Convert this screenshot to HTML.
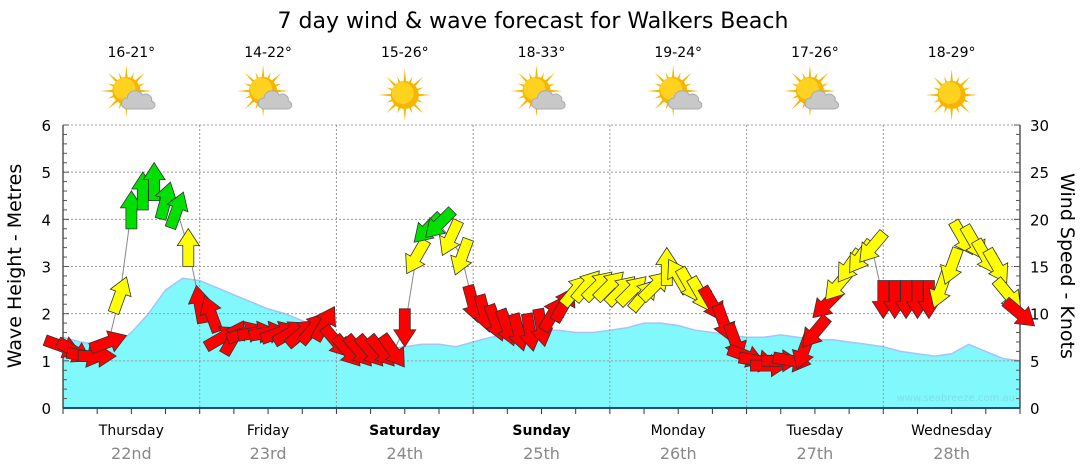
<!DOCTYPE html>
<html><head><meta charset="utf-8"><style>
body{margin:0;background:#fff;}
svg{display:block;font-family:"DejaVu Sans","Liberation Sans",sans-serif;}
</style></head><body>
<svg id="chart" width="1080" height="475" viewBox="0 0 1080 475" xmlns="http://www.w3.org/2000/svg">
<text x="533" y="28" font-size="22" text-anchor="middle" fill="#000">7 day wind &amp; wave forecast for Walkers Beach</text>
<g id="plot"></g>
<text transform="translate(21,266) rotate(-90)" font-size="19" text-anchor="middle">Wave Height - Metres</text>
<text transform="translate(1061,266) rotate(90)" font-size="19" text-anchor="middle">Wind Speed - Knots</text>
<text x="1015" y="401" font-size="10" text-anchor="end" fill="#7fdfe8">www.seabreeze.com.au</text>
</svg>
<script>
const days=["Thursday","Friday","Saturday","Sunday","Monday","Tuesday","Wednesday"];
const dates=["22nd","23rd","24th","25th","26th","27th","28th"];
const temps=["16-21°","14-22°","15-26°","18-33°","19-24°","17-26°","18-29°"];
const icons=["cloud","cloud","sun","cloud","cloud","cloud","sun"];
const boldDays=[false,false,true,true,false,false,false];
const waveTicks=[0,1,2,3,4,5,6];
const windTicks=[0,5,10,15,20,25,30];
const wave=[1.5,1.4,1.35,1.3,1.6,2.0,2.5,2.75,2.7,2.55,2.4,2.25,2.1,2.0,1.85,1.7,1.45,1.35,1.3,1.25,1.3,1.35,1.35,1.3,1.4,1.5,1.55,1.6,1.65,1.65,1.6,1.6,1.65,1.7,1.8,1.8,1.75,1.65,1.6,1.55,1.5,1.5,1.55,1.5,1.45,1.45,1.4,1.35,1.3,1.2,1.15,1.1,1.15,1.35,1.2,1.05,1.0];
const windSpeed=[6.5,6,5.5,5.5,7,12,21,23,24,22,21,17,
11,10,7.5,7.5,8,8,8,8,8,8,8.5,9,
7,6,6,6,6,6,8.5,16,19,19.5,18,16,
11,10,9,8.5,8,8,8.5,10,11,12.5,13,13,
13,12.5,12.5,12,13,15,14,13,12,11,9,7,
5.5,5,4.5,5,5,6,8,11,13,15,16,17,
11.5,11.5,11.5,11.5,11.5,12.5,15,18,17.5,16,15,12,10];
const windDir=[110,120,100,90,70,20,0,0,0,15,20,0,
350,340,60,30,70,80,80,70,60,50,40,30,
140,140,140,140,140,145,180,210,225,225,205,200,
165,165,160,160,165,170,170,30,30,40,40,45,
45,45,45,40,45,0,330,150,150,150,160,160,
110,100,90,90,100,200,220,225,220,215,215,220,
180,180,180,180,180,200,200,150,150,150,150,140,130];

const NS="http://www.w3.org/2000/svg";
const X0=63,X1=1020,Y0=408,Y6=125;
const nDays=7;
const xWave=i=>X0+(X1-X0)*i/(wave.length-1);
const xWind=i=>X0+(X1-X0)*i/(windSpeed.length-1);
const xDay=f=>X0+(X1-X0)*f/nDays;
const yW=v=>Y0-(Y0-Y6)*v/6;
const yK=k=>Y0-(Y0-Y6)*k/30;
const plot=document.getElementById('plot');
function mk(tag,attrs,parent){const e=document.createElementNS(NS,tag);for(const k in attrs)e.setAttribute(k,attrs[k]);(parent||plot).appendChild(e);return e;}

let d=`M${xWave(0)},${Y0}`;
wave.forEach((v,i)=>{d+=` L${xWave(i).toFixed(1)},${yW(v).toFixed(1)}`;});
d+=` L${xWave(wave.length-1)},${Y0} Z`;
const area=mk('path',{d:d,fill:'#80f8fc',stroke:'none'});


let dl='';wave.forEach((v,i)=>{dl+=(i?' L':'M')+xWave(i).toFixed(1)+','+yW(v).toFixed(1);});
const wl=mk('path',{d:dl,fill:'none',stroke:'#a8c4f4','stroke-width':1.5});



waveTicks.forEach(v=>{if(v>0){const g=mk('line',{x1:X0,x2:X1,y1:yW(v),y2:yW(v),stroke:'#999','stroke-dasharray':'2,2','stroke-width':1});

}});
for(let i=1;i<nDays;i++){const x=xDay(i);const g=mk('line',{x1:x,x2:x,y1:Y6,y2:Y0,stroke:'#999','stroke-dasharray':'2,2','stroke-width':1});

}

const ax=mk('line',{x1:X0,x2:X0,y1:Y6,y2:Y0,stroke:'#000'});


const ax2=mk('line',{x1:X1,x2:X1,y1:Y6,y2:Y0,stroke:'#000'});


for(let i=0;i<=30;i++){const y=Y0-(Y0-Y6)*i/30;const len=i%5==0?6:4;
mk('line',{x1:X0,x2:X0+len,y1:y,y2:y,stroke:'#555'});mk('line',{x1:X1-len,x2:X1,y1:y,y2:y,stroke:'#555'});}
for(let i=0;i<=nDays*4;i++){const x=xDay(i/4);mk('line',{x1:x,x2:x,y1:Y0,y2:Y0+6,stroke:'#333'});}
waveTicks.forEach(v=>{const t=mk('text',{x:X0-12,y:yW(v)+6,'font-size':15,'text-anchor':'end'});t.textContent=v;

});
windTicks.forEach(v=>{const t=mk('text',{x:X1+10,y:yK(v)+6,'font-size':15,'text-anchor':'start'});t.textContent=v;

});

days.forEach((n,i)=>{const cx=xDay(i+0.5);
const t=mk('text',{x:cx,y:435,'font-size':14,'text-anchor':'middle','font-weight':boldDays[i]?'bold':'normal'});t.textContent=n;


const t2=mk('text',{x:cx,y:459,'font-size':16,'text-anchor':'middle',fill:'#888'});t2.textContent=dates[i];


const t3=mk('text',{x:cx,y:57,'font-size':14,'text-anchor':'middle'});t3.textContent=temps[i];


const g=mk('g',{transform:`translate(${cx},95)`});


const sx=icons[i]=='sun'?0:-5, sy=icons[i]=='sun'?0:-4;
for(let r=0;r<16;r++){const a=r*Math.PI/8;const L=r%2?20:26;
mk('path',{d:`M${sx+Math.cos(a-0.12)*12},${sy+Math.sin(a-0.12)*12} L${sx+Math.cos(a)*L},${sy+Math.sin(a)*L} L${sx+Math.cos(a+0.12)*12},${sy+Math.sin(a+0.12)*12}Z`,fill:'#f5b800'},g);}
mk('circle',{cx:sx,cy:sy,r:14,fill:'#f7b500'},g);
mk('circle',{cx:sx-2,cy:sy-2,r:11,fill:'#ffd21f'},g);
if(icons[i]=='cloud'){
mk('path',{d:'M-3,14 C-12,14 -12,3 -4,3 C-4,-5 8,-7 11,0 C16,-3 22,2 20,6 C25,7 25,14 19,14 Z',fill:'#c8c8c8',stroke:'#aaa','stroke-width':1},g);
}});

const ax3=mk('line',{x1:X0,x2:X1,y1:Y0,y2:Y0,stroke:'#1a4f8a','stroke-width':2});



let wd='';windSpeed.forEach((k,i)=>{wd+=(i?' L':'M')+xWind(i).toFixed(1)+','+yK(k).toFixed(1);});
const wln=mk('path',{d:wd,fill:'none',stroke:'#888','stroke-width':1});



const arrowPath='M0,-19 L11,-2 L5.5,-2 L5.5,19 L-5.5,19 L-5.5,-2 L-11,-2 Z';
windSpeed.forEach((k,i)=>{const col=k<12?'#ff0000':(k<19?'#ffff00':'#00e000');
const a=mk('path',{d:arrowPath,transform:`translate(${xWind(i).toFixed(1)},${yK(k).toFixed(1)}) rotate(${windDir[i]})`,fill:col,stroke:'#333','stroke-width':0.8,'stroke-linejoin':'miter'});

});
</script>
</body></html>
